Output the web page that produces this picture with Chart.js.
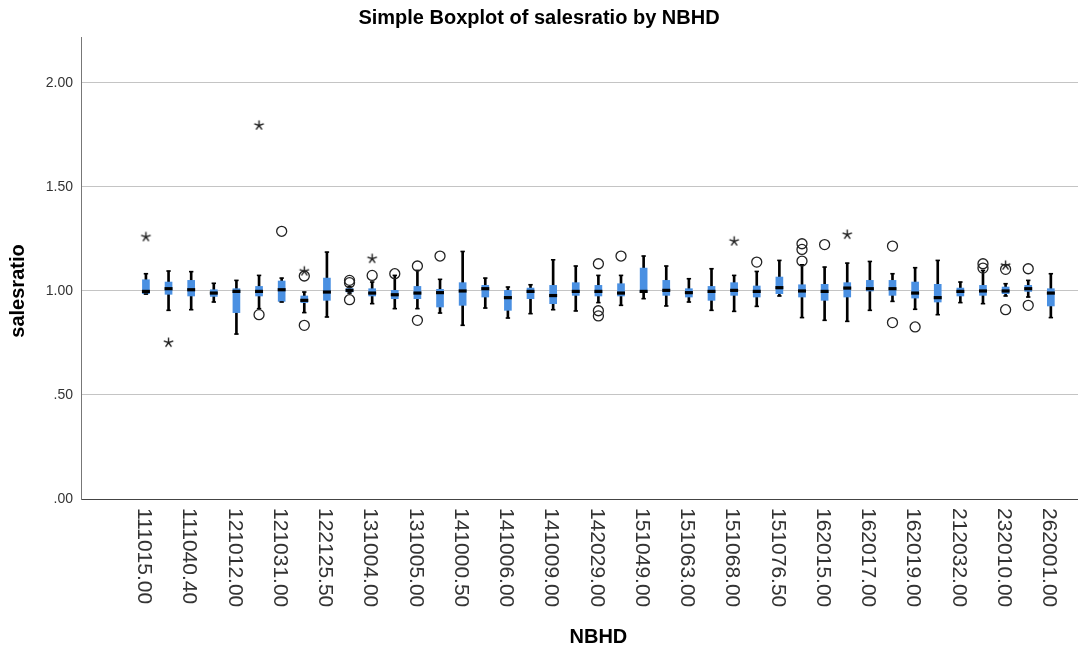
<!DOCTYPE html>
<html>
<head>
<meta charset="utf-8">
<script src="https://cdn.jsdelivr.net/npm/chart.js@4.4.1/dist/chart.umd.min.js"></script>
<style>
  html, body { margin: 0; padding: 0; background: #fff; }
  #wrap { width: 1078px; height: 651px; position: relative; }
</style>
</head>
<body>
<div id="wrap"><canvas id="c" width="1078" height="651"></canvas></div>
<script>
// ---- Data ----
// Visible tick labels (every other NBHD category is labelled)
const tickLabels = ['111015.00','111040.40','121012.00','121031.00','122125.50','131004.00','131005.00',
  '141000.50','141006.00','141009.00','142029.00','151049.00','151063.00','151068.00','151076.50',
  '162015.00','162017.00','162019.00','212032.00','232010.00','262001.00'];
// 41 NBHD categories; positions 0..40, labelled ones at even positions
const categoryCount = 41;

const whiskerLow  = [0.985,0.907,0.910,0.947,0.793,0.915,0.947,0.896,0.875,0.990,0.939,0.915,0.915,0.894,0.835,0.918,0.870,0.891,0.910,0.904,0.944,0.931,0.963,0.928,0.947,0.907,0.902,0.926,0.976,0.872,0.859,0.854,0.907,0.950,0.912,0.886,0.944,0.939,0.976,0.971,0.872];
const q1          = [0.987,0.984,0.976,0.974,0.896,0.976,0.950,0.944,0.955,0.995,0.976,0.963,0.963,0.923,0.931,0.971,0.907,0.963,0.939,0.979,0.976,0.976,0.995,0.979,0.971,0.955,0.979,0.971,0.987,0.971,0.955,0.971,1.000,0.979,0.966,0.947,0.976,0.979,0.987,0.998,0.928];
const median      = [0.998,1.011,1.006,0.990,0.998,0.998,1.006,0.955,0.995,1.003,0.990,0.982,0.990,0.992,1.000,1.011,0.968,0.998,0.978,0.998,0.998,0.990,0.998,1.003,0.992,0.998,1.003,0.998,1.016,1.000,0.998,1.014,1.011,1.011,0.990,0.968,0.998,1.000,1.000,1.011,0.990];
const q3          = [1.054,1.043,1.051,1.006,1.011,1.022,1.048,0.976,1.062,1.012,1.011,1.003,1.022,1.008,1.040,1.027,1.003,1.014,1.027,1.040,1.027,1.035,1.110,1.051,1.011,1.022,1.040,1.024,1.067,1.030,1.032,1.040,1.051,1.051,1.043,1.032,1.014,1.027,1.019,1.027,1.011];
const whiskerHigh = [1.083,1.096,1.093,1.037,1.051,1.075,1.062,0.995,1.187,1.020,1.043,1.075,1.099,1.056,1.190,1.062,1.019,1.030,1.150,1.120,1.075,1.075,1.168,1.120,1.059,1.107,1.075,1.094,1.147,1.126,1.115,1.134,1.142,1.083,1.112,1.147,1.043,1.099,1.035,1.051,1.083];

// Outliers (circles): category position and value
const outlierCat = [5,6,7,7,9,9,9,10,11,12,12,13,20,20,20,21,27,29,29,29,30,33,33,34,37,37,38,38,39,39];
const outlierVal = [0.886,1.287,1.072,0.835,1.051,1.040,0.958,1.075,1.083,1.120,0.859,1.168,1.131,0.905,0.880,1.168,1.139,1.227,1.200,1.144,1.223,1.216,0.848,0.827,1.131,1.110,1.104,0.910,1.107,0.931];
// Extreme values (stars)
const extremeCat = [0,1,5,7,10,26,31,38];
const extremeVal = [1.260,0.752,1.796,1.095,1.155,1.239,1.271,1.123];

// Y tick values
const yTicks = [0, 0.5, 1.0, 1.5, 2.0];

// ---- Build datasets ----
const idx = Array.from({length: categoryCount}, (_, i) => i);
const boxBlue = 'rgb(74,144,226)';

// asterisk glyph for extreme values
function makeStar() {
  const c = document.createElement('canvas');
  c.width = 13; c.height = 13;
  const g = c.getContext('2d');
  g.strokeStyle = '#222'; g.lineWidth = 1.4; g.lineCap = 'butt';
  g.beginPath();
  for (let k = 0; k < 5; k++) {
    const a = -Math.PI / 2 + k * 2 * Math.PI / 5;
    g.moveTo(6.5, 6.5);
    g.lineTo(6.5 + 5 * Math.cos(a), 6.5 + 5 * Math.sin(a));
  }
  g.stroke();
  return c;
}
const starImg = makeStar();

const fontFam = '"Liberation Sans", Arial, sans-serif';

const axisTextPlugin = {
  id: 'axisText',
  afterDraw(chart) {
    const xs = chart.scales.x;
    const ys = chart.scales.y;
    const ctx = chart.ctx;
    const area = chart.chartArea;
    ctx.save();
    ctx.fillStyle = '#333';
    ctx.font = '21px ' + fontFam;
    ctx.textAlign = 'left';
    ctx.textBaseline = 'middle';
    tickLabels.forEach((lab, k) => {
      const px = xs.getPixelForValue(2 * k);
      ctx.save();
      ctx.translate(px - 2, area.bottom + 9);
      ctx.rotate(Math.PI / 2);
      ctx.fillText(lab, 0, 0);
      ctx.restore();
    });
    // x axis title centred on the category range
    const cx = (xs.getPixelForValue(0) + xs.getPixelForValue(categoryCount - 1)) / 2;
    ctx.fillStyle = '#000';
    ctx.font = 'bold 20px ' + fontFam;
    ctx.textAlign = 'center';
    ctx.fillText('NBHD', cx, 637);
    // y axis title centred on the tick range
    const cy = (ys.getPixelForValue(yTicks[0]) + ys.getPixelForValue(yTicks[yTicks.length - 1])) / 2;
    ctx.save();
    ctx.translate(18, cy);
    ctx.rotate(-Math.PI / 2);
    ctx.fillText('salesratio', 0, 0);
    ctx.restore();
    ctx.restore();
  }
};

new Chart(document.getElementById('c'), {
  type: 'bar',
  data: {
    datasets: [
      {
        type: 'scatter', label: 'extremes',
        data: extremeCat.map((c, i) => ({x: c, y: extremeVal[i]})),
        pointStyle: starImg, order: 0
      },
      {
        type: 'scatter', label: 'outliers',
        data: outlierCat.map((c, i) => ({x: c, y: outlierVal[i]})),
        pointStyle: 'circle', radius: 5, borderWidth: 1.3,
        borderColor: '#222', backgroundColor: 'rgba(0,0,0,0)', order: 0
      },
      {
        type: 'scatter', label: 'median',
        data: idx.map(i => ({x: i, y: median[i]})),
        pointStyle: 'line', radius: 4, borderWidth: 3.2, borderColor: '#000', order: 1
      },
      {
        type: 'scatter', label: 'caps',
        data: idx.map(i => ({x: i, y: whiskerLow[i]})).concat(idx.map(i => ({x: i, y: whiskerHigh[i]}))),
        pointStyle: 'line', radius: 2.2, borderWidth: 1.6, borderColor: '#000', order: 1
      },
      {
        type: 'bar', label: 'box',
        data: idx.map(i => ({x: i, y: [q1[i], q3[i]]})),
        backgroundColor: boxBlue, borderWidth: 0, barThickness: 7, grouped: false, order: 2
      },
      {
        type: 'bar', label: 'whisker',
        data: idx.map(i => ({x: i, y: [whiskerLow[i], whiskerHigh[i]]})),
        backgroundColor: '#000', borderWidth: 0, barThickness: 2, grouped: false, order: 3
      }
    ]
  },
  options: {
    responsive: false,
    animation: false,
    layout: { autoPadding: false, padding: { left: 0, right: 0, top: 0, bottom: 0 } },
    plugins: {
      legend: { display: false },
      tooltip: { enabled: false },
      title: {
        display: true,
        text: 'Simple Boxplot of salesratio by NBHD',
        color: '#000',
        font: { family: fontFam, size: 20, weight: 'bold', lineHeight: 1.2 },
        padding: { top: 6, bottom: 7 }
      }
    },
    scales: {
      x: {
        type: 'linear',
        offset: false,
        min: -2.87,
        max: 41.2,
        grid: { display: false, drawTicks: false, offset: false },
        border: { display: true, color: '#444', width: 1 },
        ticks: { display: false },
        afterFit: s => { s.height = 152; }
      },
      y: {
        type: 'linear',
        min: 0,
        max: 2.221,
        afterBuildTicks: axis => { axis.ticks = yTicks.map(v => ({value: v})); },
        grid: { color: '#c4c4c4', lineWidth: 1, drawTicks: false },
        border: { display: true, color: '#777', width: 1 },
        ticks: {
          padding: 8,
          color: '#333',
          font: { family: fontFam, size: 14 },
          callback: v => v.toFixed(2).replace(/^0/, '')
        },
        afterFit: s => { s.width = 81; }
      }
    }
  },
  plugins: [axisTextPlugin]
});
</script>
</body>
</html>
